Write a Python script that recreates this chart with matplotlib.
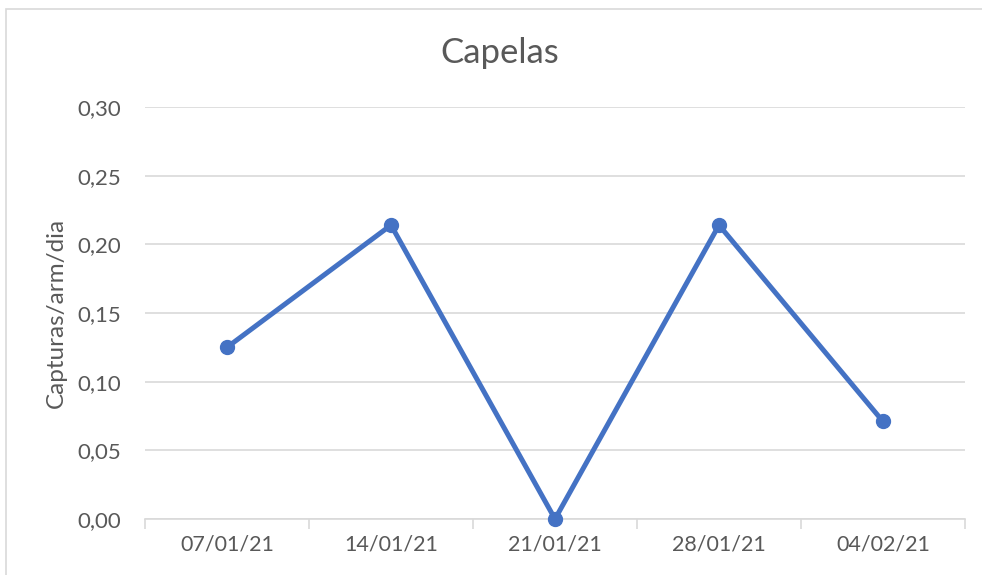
import matplotlib
matplotlib.use("Agg")
import matplotlib.pyplot as plt
from matplotlib.patches import Rectangle
from matplotlib.ticker import FixedLocator, FuncFormatter

# Data
dates = ["07/01/21", "14/01/21", "21/01/21", "28/01/21", "04/02/21"]
capturas = [0.125, 0.214, 0.0, 0.214, 0.071]
y_ticks = [0.00, 0.05, 0.10, 0.15, 0.20, 0.25, 0.30]

TEXT = "#595959"
GRID = "#d9d9d9"
BLUE = "#4472C4"

plt.rcParams["font.family"] = ["Lato", "DejaVu Sans"]

W, H = 982, 575
fig = plt.figure(figsize=(W / 100, H / 100), dpi=100)
ax = fig.add_axes([145 / W, (H - 519) / H, (965 - 145) / W, (519 - 107) / H])

x = list(range(len(dates)))
ax.plot(x, capturas, color=BLUE, lw=3.6, marker="o", markersize=10,
        solid_capstyle="round", zorder=3, clip_on=False)

ax.set_xlim(-0.5, len(dates) - 0.5)
ax.set_ylim(0, 0.30)
ax.set_yticks(y_ticks)
ax.yaxis.set_major_formatter(FuncFormatter(lambda v, p: f"{v:.2f}".replace(".", ",")))
ax.grid(axis="y", color=GRID, lw=1.2, zorder=0)

ax.set_xticks(x)
ax.set_xticklabels(dates)
ax.xaxis.set_minor_locator(FixedLocator([i - 0.5 for i in range(len(dates) + 1)]))
ax.tick_params(axis="x", which="major", length=0, pad=11, labelsize=15.5, labelcolor=TEXT)
ax.tick_params(axis="x", which="minor", length=7, width=1.2, color=GRID, direction="out")
ax.tick_params(axis="y", length=0, pad=17, labelsize=16, labelcolor=TEXT)

for s in ["top", "right", "left"]:
    ax.spines[s].set_visible(False)
ax.spines["bottom"].set_color(GRID)
ax.spines["bottom"].set_linewidth(1.2)

ax.set_ylabel("Capturas/arm/dia", fontsize=17.5, color=TEXT, labelpad=8)
fig.text(500 / W, 1 - 53 / H, "Capelas", ha="center", va="center",
         fontsize=25, color=TEXT)

# chart border
fig.patches.append(Rectangle((6 / W, -0.1), 1.2, 1 - 9 / H + 0.1,
                             transform=fig.transFigure, fill=False,
                             edgecolor=GRID, lw=1.2))

fig.savefig("out.png", dpi=100)
